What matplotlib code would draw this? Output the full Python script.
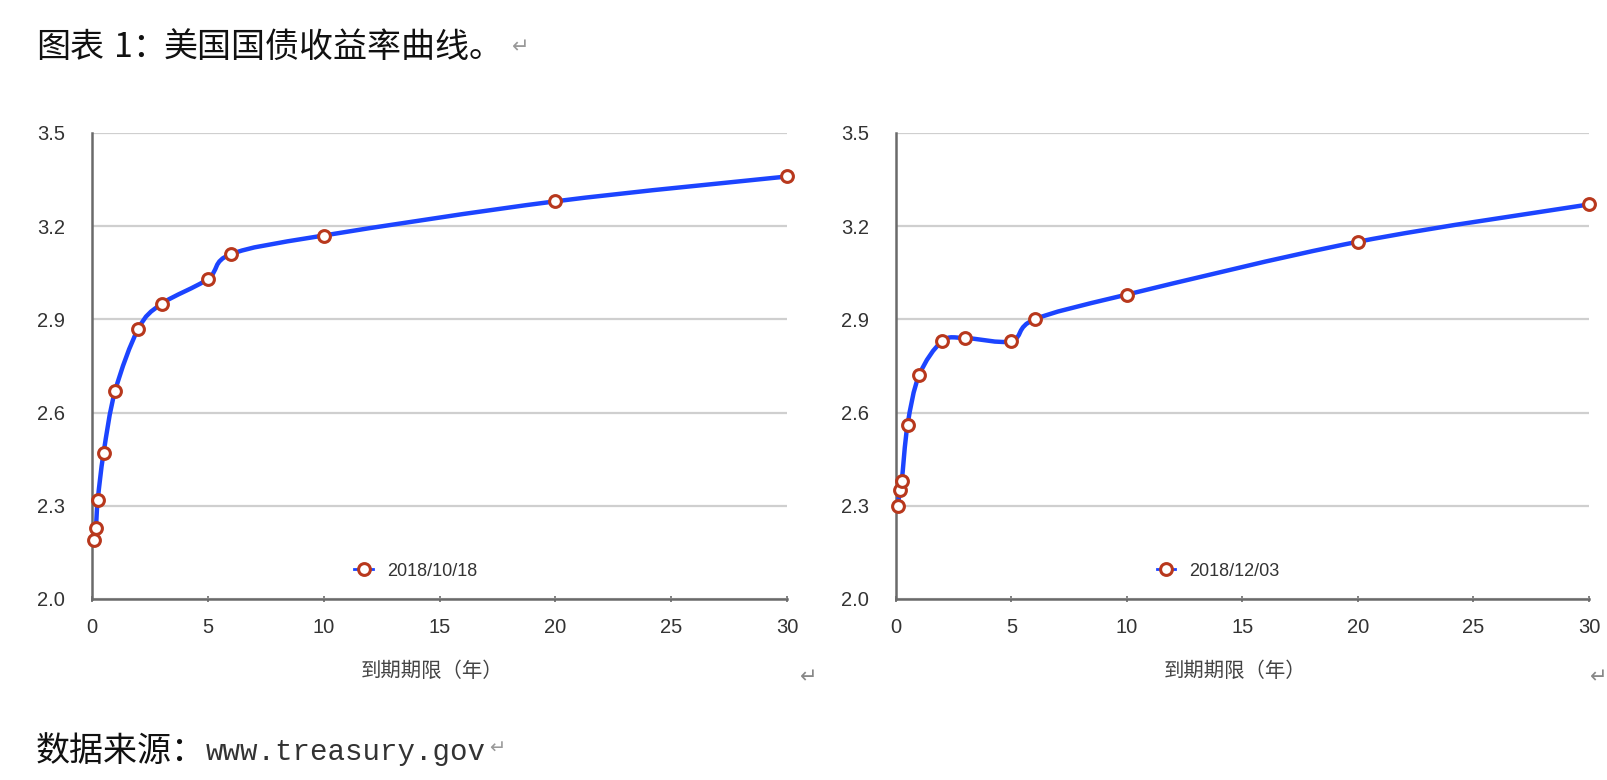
import matplotlib
matplotlib.use("Agg")
import matplotlib.pyplot as plt
from matplotlib.path import Path
from matplotlib.patches import PathPatch
from matplotlib.lines import Line2D
import numpy as np

# ---- data ----
maturity = [0.083, 0.167, 0.25, 0.5, 1, 2, 3, 5, 6, 10, 20, 30]
yield_1018 = [2.19, 2.23, 2.32, 2.47, 2.67, 2.87, 2.95, 3.03, 3.11, 3.17, 3.28, 3.36]
yield_1203 = [2.30, 2.35, 2.38, 2.56, 2.72, 2.83, 2.84, 2.83, 2.90, 2.98, 3.15, 3.27]
labels = ["2018/10/18", "2018/12/03"]
yticks = [2.0, 2.3, 2.6, 2.9, 3.2, 3.5]
xticks = [0, 5, 10, 15, 20, 25, 30]
title_a = "图表"
title_b = "1："
title_c = "美国国债收益率曲线。"
source_cn = "数据来源："
source_url = "www.treasury.gov"
xlabel = "到期期限（年）"

BLUE = "#1c44ff"
RED = "#b8381d"
GRID = "#cfcfcf"
AXC = "#6a6a6a"
TXT = "#333333"
CJK = ["Noto Sans CJK SC", "DejaVu Sans"]

W, H = 1608, 780
fig = plt.figure(figsize=(W / 100, H / 100), dpi=100)


def smooth_path(xs, ys):
    pts = np.column_stack([xs, ys]).astype(float)
    ext = np.vstack([pts[0], pts, pts[-1]])
    verts = [tuple(pts[0])]
    codes = [Path.MOVETO]
    for i in range(1, len(ext) - 2):
        p0, p1, p2, p3 = ext[i - 1], ext[i], ext[i + 1], ext[i + 2]
        c1 = p1 + (p2 - p0) / 6.0
        c2 = p2 - (p3 - p1) / 6.0
        verts += [tuple(c1), tuple(c2), tuple(p2)]
        codes += [Path.CURVE4] * 3
    return Path(verts, codes)


def panel(rect, ys, label, leg_x):
    ax = fig.add_axes(rect)
    ax.set_xlim(0, 30)
    ax.set_ylim(2.0, 3.5)
    ax.set_yticks(yticks)
    ax.set_yticklabels([f"{v:.1f}" for v in yticks])
    ax.set_xticks(xticks)
    for s in ["top", "right"]:
        ax.spines[s].set_visible(False)
    for s in ["left", "bottom"]:
        ax.spines[s].set_color(AXC)
        ax.spines[s].set_linewidth(1.8)
    ax.grid(axis="y", color=GRID, linewidth=1.6)
    ax.set_axisbelow(True)
    ax.tick_params(axis="y", length=0, pad=19.5, labelsize=14.5, labelcolor=TXT)
    ax.tick_params(axis="x", direction="inout", length=5, width=1.2, color=AXC,
                   pad=11.5, labelsize=14.5, labelcolor=TXT)
    for t in ax.get_xticklabels() + ax.get_yticklabels():
        t.set_fontfamily(["Liberation Sans", "DejaVu Sans"])
    patch = PathPatch(smooth_path(maturity, ys), facecolor="none", edgecolor=BLUE,
                      linewidth=3.2, zorder=3, capstyle="round", joinstyle="round")
    ax.add_patch(patch)
    ax.plot(maturity, ys, linestyle="none", marker="o", markersize=8.5,
            markerfacecolor="white", markeredgecolor=RED, markeredgewidth=2.2,
            zorder=4, clip_on=False)
    handle = Line2D([], [], color=BLUE, linewidth=2, marker="o", markersize=8.5,
                    markerfacecolor="white", markeredgecolor=RED, markeredgewidth=2.2)
    leg = ax.legend([handle], [label], loc="center", bbox_to_anchor=(leg_x, 0.06),
                    frameon=False, handlelength=1.0, handletextpad=0.8,
                    prop={"family": ["Liberation Sans"], "size": 13})
    for t in leg.get_texts():
        t.set_color(TXT)
    ax.set_xlabel(xlabel, fontsize=14.7, color="#444444", labelpad=17,
                  fontfamily=CJK)
    ax.xaxis.label.set_x(0.489)
    return ax


bottom = 1 - 599 / H
height = (599 - 133) / H
panel([92 / W, bottom, 695 / W, height], yield_1018, labels[0], 0.466)
panel([896 / W, bottom, 693 / W, height], yield_1203, labels[1], 0.465)

# title
ty = 1 - 47 / H
fig.text(36 / W, ty, title_a, fontsize=24.5, color="#111111", va="center", ha="left", fontfamily=CJK)
fig.text(114 / W, ty, title_b, fontsize=24.5, color="#111111", va="center", ha="left", fontfamily=CJK)
fig.text(164 / W, ty, title_c, fontsize=24.5, color="#111111", va="center", ha="left", fontfamily=CJK)
fig.text(512 / W, ty, "\u21b5", fontsize=15, color="#999999", va="center", ha="left",
         fontfamily=["DejaVu Sans"])

# source
sy = 1 - 752 / H
fig.text(36 / W, sy, source_cn, fontsize=24.5, color="#111111", va="center", ha="left", fontfamily=CJK)
fig.text(206 / W, sy, source_url, fontsize=21, color="#333333", va="center", ha="left",
         fontfamily=["Liberation Mono", "DejaVu Sans Mono"])
fig.text(489 / W, 1 - 748 / H, "\u21b5", fontsize=14, color="#999999", va="center", ha="left",
         fontfamily=["DejaVu Sans"])

# paragraph marks after panels
fig.text(800 / W, 1 - 677 / H, "\u21b5", fontsize=15, color="#888888", va="center", ha="left",
         fontfamily=["DejaVu Sans"])
fig.text(1607 / W, 1 - 677 / H, "\u21b5", fontsize=15, color="#888888", va="center", ha="right",
         fontfamily=["DejaVu Sans"])

fig.savefig("out.png", dpi=100, facecolor="white")
